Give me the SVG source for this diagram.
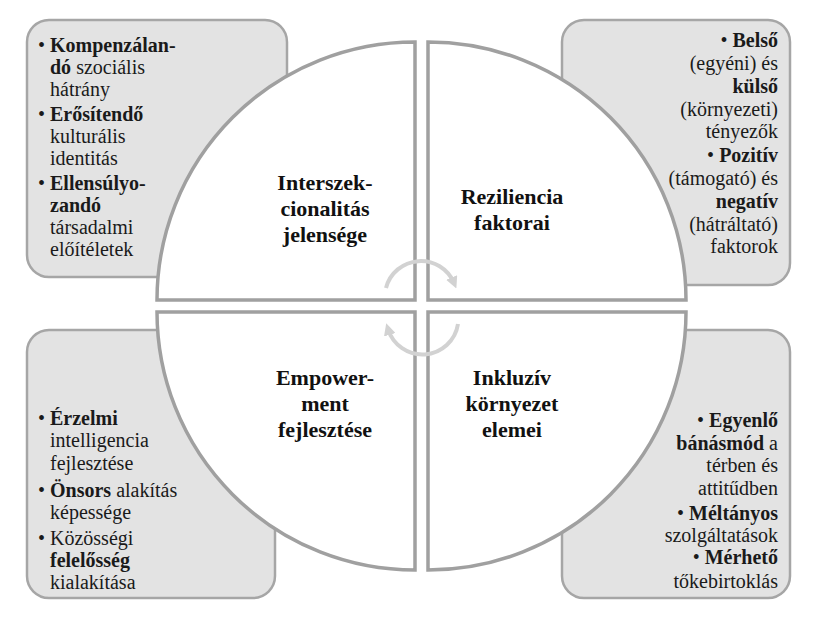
<svg xmlns="http://www.w3.org/2000/svg" width="818" height="627" viewBox="0 0 818 627">
<style>
.box{fill:#e3e3e3;stroke:#a6a6a6;stroke-width:2.5}
.q{fill:#fff;stroke:#a0a0a0;stroke-width:3.5}
text{font-family:'Liberation Serif','Times New Roman','DejaVu Serif',serif}
.t{font-size:20px;fill:#1a1a1a}
.r{text-anchor:end}
.c{font-size:22px;font-weight:bold;text-anchor:middle;fill:#111}
.arc{fill:none;stroke:#d2d2d2;stroke-width:4}
</style>
<defs><marker id="ah" viewBox="0 0 10 10" refX="5" refY="5" markerWidth="3" markerHeight="3" orient="auto"><path d="M0,0L10,5L0,10z" fill="#d2d2d2"/></marker></defs>
<g id="box-tl"><rect class="box" x="27" y="20" width="260" height="257" rx="22"/>
<text class="t" font-family="Liberation Serif, serif"><tspan x="38" y="52">• <tspan font-weight="bold">Kompenzálan-</tspan></tspan><tspan x="50" y="74" font-weight="bold">dó</tspan><tspan> szociális</tspan><tspan x="50" y="96">hátrány</tspan><tspan x="38" y="121">• <tspan font-weight="bold">Erősítendő</tspan></tspan><tspan x="50" y="143">kulturális</tspan><tspan x="50" y="165">identitás</tspan><tspan x="38" y="190">• <tspan font-weight="bold">Ellensúlyo-</tspan></tspan><tspan x="50" y="212" font-weight="bold">zandó</tspan><tspan x="50" y="234">társadalmi</tspan><tspan x="50" y="256">előítéletek</tspan></text></g>
<g id="box-tr"><rect class="box" x="562" y="20" width="228" height="265" rx="22"/>
<text class="t r" font-family="Liberation Serif, serif"><tspan x="778" y="47">• <tspan font-weight="bold">Belső</tspan></tspan><tspan x="778" y="70">(egyéni) és</tspan><tspan x="778" y="93" font-weight="bold">külső</tspan><tspan x="778" y="116">(környezeti)</tspan><tspan x="778" y="138">tényezők</tspan><tspan x="778" y="162">• <tspan font-weight="bold">Pozitív</tspan></tspan><tspan x="778" y="185">(támogató) és</tspan><tspan x="778" y="208" font-weight="bold">negatív</tspan><tspan x="778" y="231">(hátráltató)</tspan><tspan x="778" y="253">faktorok</tspan></text></g>
<g id="box-bl"><rect class="box" x="27" y="330" width="248" height="268" rx="22"/>
<text class="t" font-family="Liberation Serif, serif"><tspan x="38" y="425">• <tspan font-weight="bold">Érzelmi</tspan></tspan><tspan x="50" y="447">intelligencia</tspan><tspan x="50" y="470">fejlesztése</tspan><tspan x="38" y="497">• <tspan font-weight="bold">Önsors</tspan> alakítás</tspan><tspan x="50" y="519">képessége</tspan><tspan x="38" y="545">• Közösségi</tspan><tspan x="50" y="567" font-weight="bold">felelősség</tspan><tspan x="50" y="589">kialakítása</tspan></text></g>
<g id="box-br"><rect class="box" x="562" y="330" width="228" height="268" rx="22"/>
<text class="t r" font-family="Liberation Serif, serif"><tspan x="778" y="427">• <tspan font-weight="bold">Egyenlő</tspan></tspan><tspan x="778" y="450"><tspan font-weight="bold">bánásmód</tspan> a</tspan><tspan x="778" y="472">térben és</tspan><tspan x="778" y="495">attitűdben</tspan><tspan x="778" y="520">• <tspan font-weight="bold">Méltányos</tspan></tspan><tspan x="778" y="542">szolgáltatások</tspan><tspan x="778" y="564">• <tspan font-weight="bold">Mérhető</tspan></tspan><tspan x="778" y="588">tőkebirtoklás</tspan></text></g>
<g id="q-tl"><path class="q" d="M415,300 H157 A258,258 0 0 1 415,42 Z"/><text class="c" font-family="Liberation Serif, serif"><tspan x="325" y="190">Interszek-</tspan><tspan x="325" y="216">cionalitás</tspan><tspan x="325" y="242">jelensége</tspan></text></g>
<g id="q-tr"><path class="q" d="M428,300 V42 A258,258 0 0 1 686,300 Z"/><text class="c" font-family="Liberation Serif, serif"><tspan x="512" y="204">Reziliencia</tspan><tspan x="512" y="230">faktorai</tspan></text></g>
<g id="q-bl"><path class="q" d="M415,312 H157 A258,258 0 0 0 415,570 Z"/><text class="c" font-family="Liberation Serif, serif"><tspan x="325" y="385">Empower-</tspan><tspan x="325" y="411">ment</tspan><tspan x="325" y="437">fejlesztése</tspan></text></g>
<g id="q-br"><path class="q" d="M428,312 V570 A258,258 0 0 0 686,312 Z"/><text class="c" font-family="Liberation Serif, serif"><tspan x="512" y="385">Inkluzív</tspan><tspan x="512" y="411">környezet</tspan><tspan x="512" y="437">elemei</tspan></text></g>
<g id="connectors">
<path class="arc" d="M386,288 A36,36 0 0 1 454,283" marker-end="url(#ah)"/>
<path class="arc" d="M458,324 A36,36 0 0 1 388,329" marker-end="url(#ah)"/>
</g>
</svg>
